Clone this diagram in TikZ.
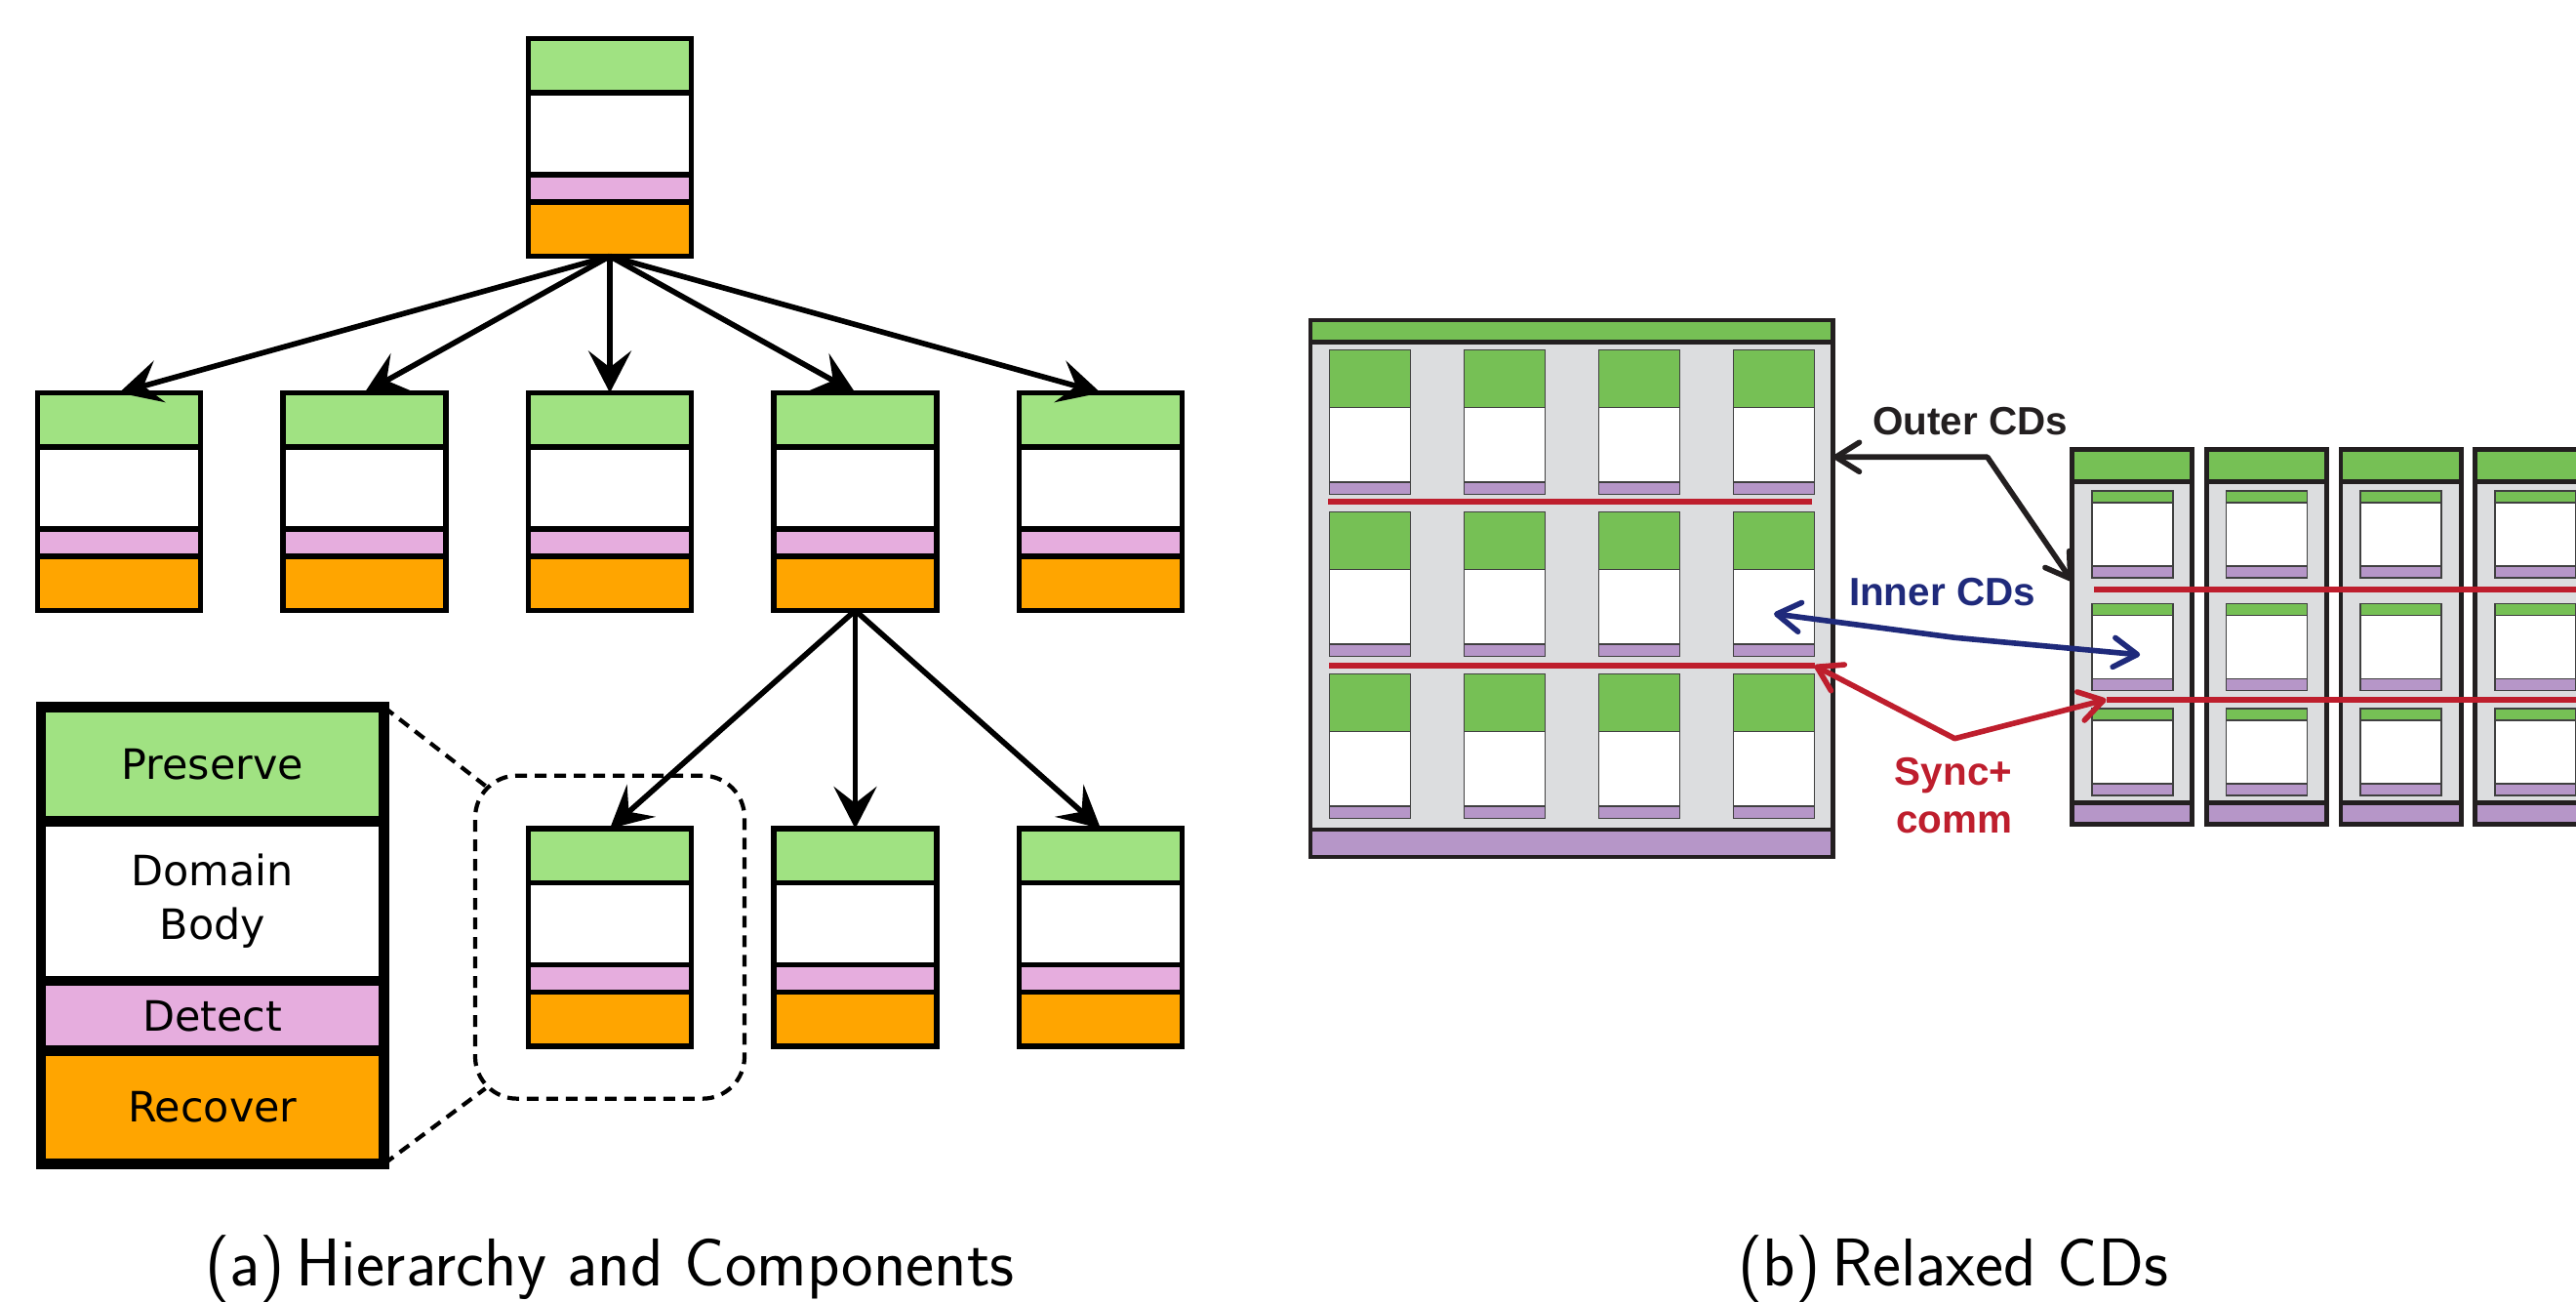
\documentclass[tikz,border=0pt]{standalone}
\usepackage{fontspec}
\usepackage{xcolor}
\usetikzlibrary{
    arrows.meta,
    calc,
    positioning
}
\newfontfamily\legendfont{DejaVu Sans}
\newfontfamily\labelfont{Liberation Sans}

\definecolor{presgreen}{HTML}{A0E282}
\definecolor{detpink}{HTML}{E6ADDE}
\definecolor{recorange}{HTML}{FFA500}
\definecolor{cdgreen}{HTML}{76C055}
\definecolor{cdgray}{HTML}{DCDDDF}
\definecolor{cdpurple}{HTML}{B696C8}
\definecolor{cdred}{HTML}{BE1E2D}
\definecolor{cdblue}{HTML}{1F2A7B}
\definecolor{cdblack}{HTML}{231F20}
\definecolor{cdline}{HTML}{404040}

\tikzset{
    part/.style={draw, line width=1.6pt, minimum width=1.67cm, inner sep=0pt, outer sep=0pt},
    pres/.style={part, fill=presgreen, minimum height=0.555cm},
    body/.style={part, fill=white, minimum height=0.84cm},
    detc/.style={part, fill=detpink, minimum height=0.28cm},
    recv/.style={part, fill=recorange, minimum height=0.555cm},
    legpart/.style={draw, line width=3pt, minimum width=3.516cm, inner sep=0pt, outer sep=0pt,
        align=center, font=\legendfont\fontsize{12.2}{15.85}\selectfont},
    tree/.style={-{Stealth[length=0.43cm, width=0.44cm, inset=0.17cm]}, line width=1.6pt},
    zoomline/.style={line width=1.2pt, dash pattern=on 0.12cm off 0.08cm},
    outercd/.style={draw=cdblack, fill=cdgray, line width=1.35pt, inner sep=0pt, outer sep=0pt},
    leaf/.style={draw=cdline, line width=0.5pt, minimum width=0.83cm, inner sep=0pt, outer sep=0pt},
    syncline/.style={draw=cdred, line width=1.8pt},
    cdarrow/.style={line width=1.6pt, line cap=round, line join=round,
        {Straight Barb[length=0.24cm, width=0.3cm, round]}-{Straight Barb[length=0.24cm, width=0.3cm, round]}},
    cdlabel/.style={font=\labelfont\bfseries\fontsize{11.5}{13.75}\selectfont, inner sep=0pt},
    caption/.style={font=\sffamily\fontsize{19.7}{23}\selectfont, inner sep=0pt}
}

% one domain: preserve / body / detect / recover
\newcommand{\cdstack}[2]{%
    \node[pres, anchor=north] (#1-p) at #2 {};
    \node[body, below=0pt of #1-p] (#1-b) {};
    \node[detc, below=0pt of #1-b] (#1-d) {};
    \node[recv, below=0pt of #1-d] (#1-r) {};
}
% small domain inside a relaxed CD
\newcommand{\leafcd}[5]{%
    \node[leaf, fill=cdgreen, minimum height=#3, anchor=north west] (#1-p) at #2 {};
    \node[leaf, fill=white, minimum height=#4, below=0pt of #1-p] (#1-b) {};
    \node[leaf, fill=cdpurple, minimum height=#5, below=0pt of #1-b] (#1-d) {};
}

\begin{document}
\begin{tikzpicture}
    \useasboundingbox (0,0) rectangle (26.4,13.34);

    % (a) hierarchy
    \cdstack{root}{(6.25,12.945)}
    \foreach \i/\x in {1/1.22, 2/3.735, 3/6.25, 4/8.765, 5/11.28} {
        \cdstack{c\i}{(\x,9.315)}
    }
    \foreach \i/\x in {1/6.25, 2/8.765, 3/11.28} {
        \cdstack{g\i}{(\x,4.85)}
    }

    \foreach \i in {1,...,5}
        \draw[tree] (root-r.south) -- (c\i-p.north);
    \foreach \i in {1,2,3}
        \draw[tree] (c4-r.south) -- (g\i-p.north);

    % legend
    \node[legpart, fill=presgreen, minimum height=1.168cm, anchor=north] (lg-p) at (2.178,6.094) {Preserve};
    \node[legpart, fill=white, minimum height=1.636cm, below=0pt of lg-p] (lg-b) {Domain\\Body};
    \node[legpart, fill=detpink, minimum height=0.714cm, below=0pt of lg-b] (lg-d) {Detect};
    \node[legpart, fill=recorange, minimum height=1.161cm, below=0pt of lg-d] (lg-r) {Recover};

    \node[zoomline, draw, rounded corners=0.43cm, minimum width=2.76cm, minimum height=3.31cm] (zoombox) at (6.25,3.738) {};
    \draw[zoomline] (lg-p.north east) -- ($(zoombox.north west)+(0.126,-0.126)$);
    \draw[zoomline] (lg-r.south east) -- ($(zoombox.south west)+(0.126,0.126)$);

    \node[caption, anchor=base] (capa) at (6.25,0.16) {(a)\,Hierarchy and Components};

    % (b) relaxed CDs
    \node[outercd, minimum width=5.357cm, minimum height=5.5cm, anchor=north west] (bigcd) at (13.43,10.06) {};
    \node[outercd, fill=cdgreen, minimum width=5.357cm, minimum height=0.225cm, anchor=north west] (bigcd-top) at (bigcd.north west) {};
    \node[outercd, fill=cdpurple, minimum width=5.357cm, minimum height=0.28cm, anchor=south west] (bigcd-bot) at (bigcd.south west) {};
    \foreach \j in {1,2,3} {
        \foreach \i in {1,...,4} {
            \leafcd{bin\j\i}{({13.625+1.38*(\i-1)},{9.754-1.66*(\j-1)})}{0.59cm}{0.765cm}{0.125cm}
        }
    }

    \foreach \i [evaluate=\i as \xl using 21.234+1.378*(\i-1)] in {1,...,4} {
        \node[outercd, minimum width=1.234cm, minimum height=3.845cm, anchor=north west] (rcd\i) at (\xl,8.738) {};
        \node[outercd, fill=cdgreen, minimum width=1.234cm, minimum height=0.335cm, anchor=north west] (rcd\i-top) at (rcd\i.north west) {};
        \node[outercd, fill=cdpurple, minimum width=1.234cm, minimum height=0.221cm, anchor=south west] (rcd\i-bot) at (rcd\i.south west) {};
        \foreach \j/\yt in {1/8.307, 2/7.156, 3/6.079} {
            \leafcd{rin\i\j}{({\xl+0.203},\yt)}{0.12cm}{0.65cm}{0.12cm}
        }
    }

    \coordinate (lsync) at (18.596,6.52);
    \coordinate (rsync) at (21.585,6.172);
    \draw[syncline] (13.61,8.197) -- (18.57,8.197);
    \draw[syncline] (13.62,6.52) -- (lsync);
    \draw[syncline] (21.458,7.301) -- (26.5,7.301);
    \draw[syncline] (rsync) -- (26.5,6.172);

    \coordinate (okink) at (20.367,8.657);
    \coordinate (outerL) at (bigcd.east |- okink);
    \coordinate (outerR) at ($(rcd1.north west)+(0,-1.35)$);
    \draw[cdarrow, draw=cdblack] (outerL) -- (okink) -- (outerR);

    \coordinate (ikink) at (20.033,6.807);
    \coordinate (innerL) at ($(bin24-b.center)+(0,-0.07)$);
    \coordinate (innerR) at ($(rin12-b.center)+(0.08,-0.08)$);
    \draw[cdarrow, draw=cdblue] (innerL) -- (ikink) -- (innerR);

    \coordinate (skink) at (20.033,5.773);
    \draw[cdarrow, draw=cdred] (lsync) -- (skink) -- (rsync);

    \node[cdlabel, text=cdblack, anchor=base] (outerlbl) at (20.193,8.88) {Outer CDs};
    \node[cdlabel, text=cdblue, anchor=base] (innerlbl) at (19.905,7.133) {Inner CDs};
    \node[cdlabel, text=cdred, anchor=base] (synclbl) at (20.02,5.29) {Sync+};
    \node[cdlabel, text=cdred, anchor=base] (commlbl) at (20.03,4.807) {comm};

    \node[caption, anchor=base] (capb) at (20.02,0.16) {(b)\,Relaxed CDs};
\end{tikzpicture}
\end{document}
